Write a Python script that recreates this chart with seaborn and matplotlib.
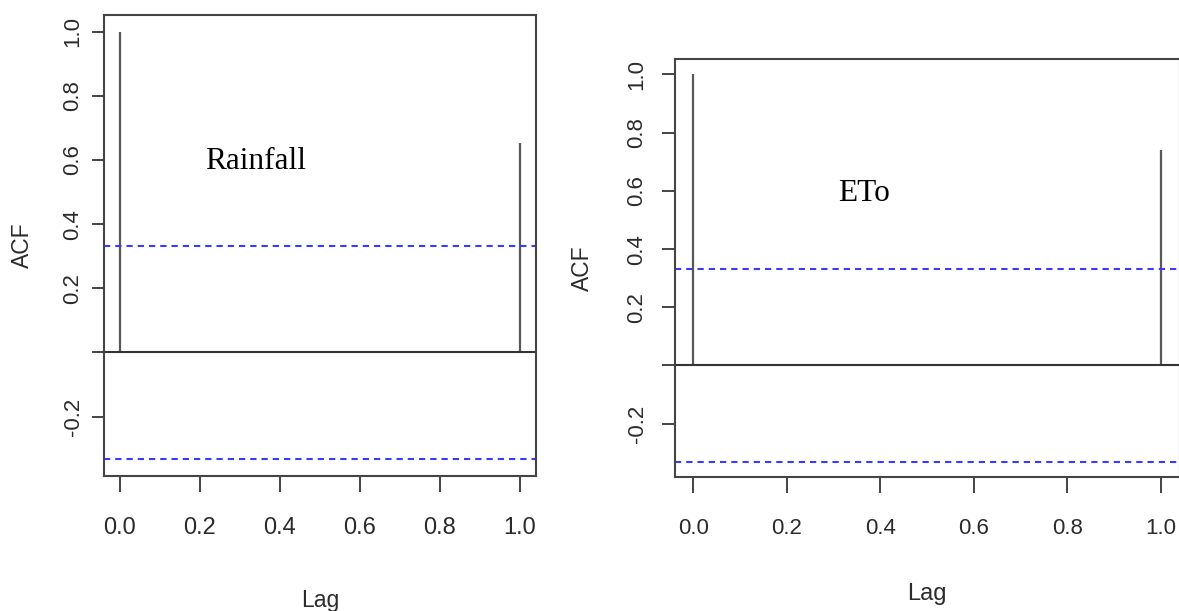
import matplotlib
matplotlib.use('Agg')
import matplotlib.pyplot as plt
import seaborn as sns

# ACF values
lags = [0, 1]
rainfall_acf = [1.0, 0.654]
eto_acf = [1.0, 0.741]
rainfall_ci = 0.332
eto_ci = 0.331

ytick_vals = [-0.2, 0.0, 0.2, 0.4, 0.6, 0.8, 1.0]
ytick_text = ['-0.2', '', '0.2', '0.4', '0.6', '0.8', '1.0']
xtick_vals = [0.0, 0.2, 0.4, 0.6, 0.8, 1.0]
xtick_text = ['0.0', '0.2', '0.4', '0.6', '0.8', '1.0']

sns.set_theme(style='ticks')
plt.rcParams['font.family'] = ['Liberation Sans', 'DejaVu Sans']

W, H = 1179, 611
fig = plt.figure(figsize=(W / 100, H / 100), dpi=100)
fig.patch.set_facecolor('white')

ax1 = fig.add_axes([103.7 / W, 1 - 476 / H, (536 - 103.7) / W, (476 - 14.7) / H])
ax2 = fig.add_axes([674.6 / W, 1 - 477.3 / H, (1179.5 - 674.6) / W, (477.3 - 59) / H])

txt_col = '#2b2b2b'
line_col = '#444444'


def acf_panel(ax, acf, ci, name, name_xy, xsize, ysize, lagsize, ylen, ypad, lag_y, acf_x):
    ax.set_facecolor('white')
    ax.vlines(lags, 0, acf, color='#585858', lw=1.6)
    ax.axhline(0, color='#333333', lw=1.5)
    for c in (ci, -ci):
        ax.axhline(c, color='#3a3aff', lw=1.5, ls=(0, (3, 2.4)))

    lo = min(-ci, min(acf))
    hi = max(ci, max(acf))
    pad = 0.04 * (hi - lo)
    ax.set_ylim(lo - pad, hi + pad)
    ax.set_xlim(-0.04, 1.04)

    ax.set_xticks(xtick_vals)
    ax.set_xticklabels(xtick_text, fontsize=xsize, color=txt_col)
    ax.set_yticks(ytick_vals)
    ax.set_yticklabels(ytick_text, fontsize=ysize, color=txt_col)
    for lbl in ax.get_yticklabels():
        lbl.set_rotation(90)
        lbl.set_va('center')

    ax.tick_params(axis='x', direction='out', length=11.5, width=1.4, color=line_col, pad=18)
    ax.tick_params(axis='y', direction='out', length=ylen, width=1.4, color=line_col, pad=ypad)

    for s in ax.spines.values():
        s.set_visible(True)
        s.set_color(line_col)
        s.set_linewidth(1.5)

    ax.set_xlabel('Lag', fontsize=lagsize, color=txt_col, va='baseline')
    ax.xaxis.set_label_coords(0.5, lag_y)
    ax.set_ylabel('ACF', fontsize=16.5, color=txt_col, va='center')
    ax.yaxis.set_label_coords(acf_x, 0.5)

    ax.text(name_xy[0], name_xy[1], name, family=['Liberation Serif', 'DejaVu Serif'],
            fontsize=22.5, color='black', ha='center', va='baseline')


acf_panel(ax1, rainfall_acf, rainfall_ci, 'Rainfall', (0.339, 0.571),
          17, 16, 16.5, 8.5, 6, -0.283, -0.1876)
acf_panel(ax2, eto_acf, eto_ci, 'ETo', (0.366, 0.564),
          16, 16, 17, 9.5, 10, -0.294, -0.1816)

fig.savefig('out.png', dpi=100, facecolor='white')
